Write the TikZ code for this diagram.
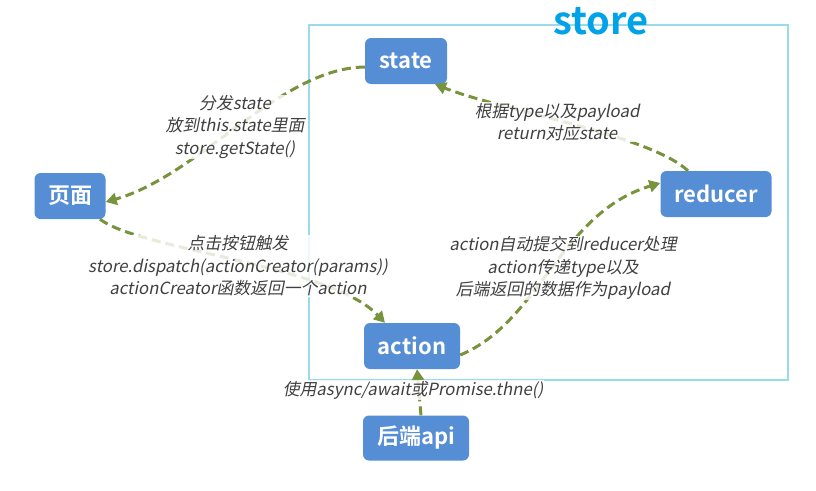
\documentclass[tikz,border=0pt]{standalone}
\usepackage{fontspec}
\setmainfont{Noto Sans CJK SC}
\newfontfamily\lblfont{Noto Sans CJK SC}[FakeSlant=0.2]
\newfontfamily\boldfont{Noto Sans CJK SC Bold}
\usetikzlibrary{arrows.meta}
\definecolor{nodeblue}{HTML}{558ED5}
\definecolor{edgegreen}{HTML}{77933C}
\definecolor{storeline}{HTML}{9ADBE8}
\definecolor{storetext}{HTML}{00A2E8}
\definecolor{lbltext}{HTML}{404040}
\tikzset{
  boxnode/.style={fill=nodeblue, rounded corners=6pt, text=white, inner sep=0pt,
    minimum height=46pt, font=\boldfont\fontsize{22}{24}\selectfont},
  flow/.style={draw=edgegreen, line width=3pt, dash pattern=on 9pt off 5pt,
    -{Triangle[length=11pt,width=12pt]}},
  lbl/.style={fill=white, fill opacity=0.82, text opacity=1, text=lbltext,
    align=center, inner sep=0.5pt, font=\lblfont\fontsize{16.8}{22.5}\selectfont},
}
\begin{document}
\begin{tikzpicture}[x=1pt,y=-1pt]
\useasboundingbox (0,0) rectangle (816,490);
% store frame
\draw[storeline, line width=2pt] (309,25) rectangle (788,380);
\node[text=storetext, font=\boldfont\fontsize{38}{38}\selectfont, inner sep=0pt] (storetitle) at (601,21) {store};
% nodes
\node[boxnode, minimum width=82pt] (state) at (406,61) {state};
\node[boxnode, minimum width=71pt] (page) at (70,196) {页面};
\node[boxnode, minimum width=111pt] (reducer) at (716,194) {reducer};
\node[boxnode, minimum width=96pt] (action) at (412,346) {action};
\node[boxnode, minimum width=106pt, minimum height=45pt] (backend) at (416,438) {后端api};
% anchor coordinates
\coordinate (s1) at ([yshift=-6pt]state.west);
\coordinate (p1) at ([yshift=-6pt]page.east);
\coordinate (r1) at ([xshift=-28pt]reducer.north);
\coordinate (s2) at ([xshift=29pt]state.south);
\coordinate (p2) at ([xshift=30pt]page.south);
\coordinate (a1) at ([xshift=-27pt]action.north);
\coordinate (a2) at ([yshift=-9pt]action.east);
\coordinate (r2) at ([yshift=11pt]reducer.west);
\coordinate (b1) at ([xshift=5pt]backend.north);
\coordinate (a3) at ([xshift=5pt]action.south);
% edges
\draw[flow] (s1) .. controls (280,68) and (200,175) .. (p1);
\draw[flow] (r1) .. controls (650,135) and (500,110) .. (s2);
\draw[flow] (p2) .. controls (140,250) and (330,265) .. (a1);
\draw[flow] (a2) .. controls (540,322) and (560,213) .. (r2);
\draw[flow] (b1) -- (a3);
% labels
\node[lbl] (l1) at (235,127) {分发state\\放到this.state里面\\store.getState()};
\node[lbl] (l2) at (557,122) {根据type以及payload\\return对应state};
\node[lbl] (l3) at (238,266) {点击按钮触发\\store.dispatch(actionCreator(params))\\actionCreator函数返回一个action};
\node[lbl] (l4) at (563,268) {action自动提交到reducer处理\\action传递type以及\\后端返回的数据作为payload};
\node[lbl] (l5) at (413,390) {使用async/await或Promise.thne()};
\end{tikzpicture}
\end{document}
